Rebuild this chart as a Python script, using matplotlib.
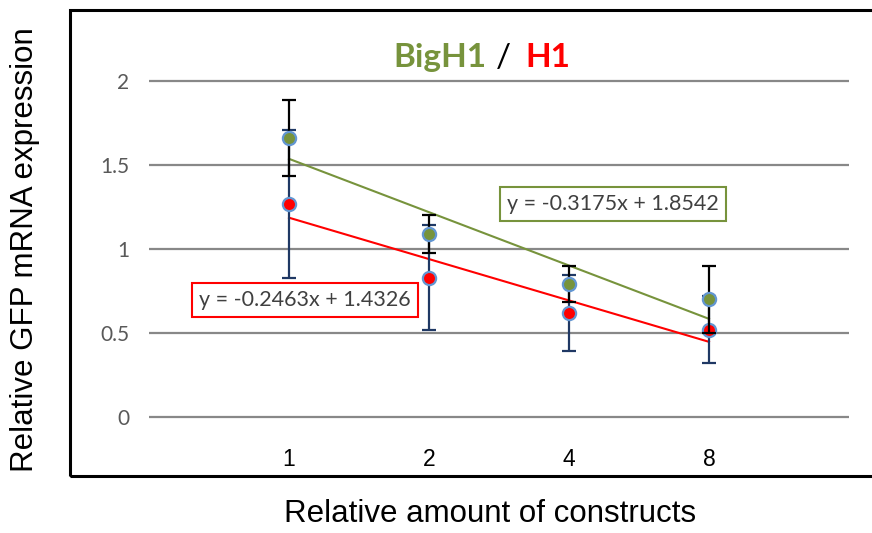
import matplotlib
matplotlib.use("Agg")
import matplotlib.pyplot as plt
from matplotlib.patches import Rectangle
import numpy as np

# ---- data ----
categories = ["1", "2", "4", "8"]
bigh1_mean = [1.66, 1.09, 0.79, 0.70]
bigh1_err = [0.225, 0.115, 0.107, 0.20]
h1_mean = [1.27, 0.83, 0.62, 0.52]
h1_err = [0.44, 0.31, 0.225, 0.20]
trend_slope = {"BigH1": -0.3175, "H1": -0.2463}
trend_intercept = {"BigH1": 1.8542, "H1": 1.4326}
yticks = [0, 0.5, 1, 1.5, 2]

GREEN = "#77933C"
RED = "#FF0000"
NAVY = "#1F3864"
EDGE = "#6296D2"
GRID = "#888888"

W, H = 872, 533
fig = plt.figure(figsize=(W / 100, H / 100), dpi=100)
ax = fig.add_axes([149 / W, 1 - 425.4 / H, 700 / W, (425.4 - 39) / H])

x = np.arange(1, len(categories) + 1)
ax.set_xlim(0, 5)
ax.set_ylim(-0.05, 2.25)

for s in ax.spines.values():
    s.set_visible(False)

# gridlines
for yv in yticks:
    ax.axhline(yv, color=GRID, lw=1.6, zorder=1)

# trendlines
xt = np.array([x[0], x[-1]], dtype=float)
ax.plot(xt, trend_slope["BigH1"] * xt + trend_intercept["BigH1"], color=GREEN, lw=1.5, zorder=2)
ax.plot(xt, trend_slope["H1"] * xt + trend_intercept["H1"], color=RED, lw=1.5, zorder=2)

# H1 series
ax.errorbar(x, h1_mean, yerr=h1_err, fmt="none", ecolor=NAVY, elinewidth=1.6,
            capsize=5, capthick=1.6, zorder=3)
ax.plot(x, h1_mean, "o", ms=9.5, mfc=RED, mec=EDGE, mew=1.6, zorder=4)
# BigH1 series
ax.errorbar(x, bigh1_mean, yerr=bigh1_err, fmt="none", ecolor="black", elinewidth=1.6,
            capsize=5, capthick=1.6, zorder=5)
ax.plot(x, bigh1_mean, "o", ms=9.5, mfc=GREEN, mec=EDGE, mew=1.6, zorder=6)

# ticks
ax.set_xticks(x)
ax.set_xticklabels(categories, fontsize=16.5, family="Liberation Sans", color="black")
ax.set_yticks(yticks)
ax.set_yticklabels(["0", "0.5", "1", "1.5", "2"], fontsize=15, family="Lato", color="#595959")
ax.tick_params(axis="x", length=0, pad=16.5)
ax.tick_params(axis="y", length=0, pad=14)

# equation boxes
def px2data(px, py):
    return (px - 149) / 140, (417 - py) / 168

rx, ry = px2data(305, 300)
ax.text(rx, ry, "y = %.4fx + %.4f" % (trend_slope["H1"], trend_intercept["H1"]),
        ha="center", va="center", fontsize=15.5, family="Lato", color="#404040", zorder=7,
        bbox=dict(boxstyle="square,pad=0.33", fc="white", ec=RED, lw=1.5))
gx, gy = px2data(613, 204)
ax.text(gx, gy, "y = %.4fx + %.4f" % (trend_slope["BigH1"], trend_intercept["BigH1"]),
        ha="center", va="center", fontsize=15.5, family="Lato", color="#404040", zorder=7,
        bbox=dict(boxstyle="square,pad=0.33", fc="white", ec=GREEN, lw=1.5))

# title
ty = 1 - 67 / H
fig.text(486 / W, ty, "BigH1", ha="right", va="baseline", fontsize=24, family="Lato",
         weight="bold", color=GREEN)
fig.text(503 / W, ty, "/", ha="center", va="baseline", fontsize=24, family="Lato", color="black")
fig.text(525 / W, ty, "H1", ha="left", va="baseline", fontsize=24, family="Lato",
         weight="bold", color=RED)

# axis labels
fig.text(25 / W, 1 - 250 / H, "Relative GFP mRNA expression", rotation=90, ha="center",
         va="center", fontsize=22.5, family="Liberation Sans", color="black")
fig.text(490 / W, 1 - 514 / H, "Relative amount of constructs", ha="center", va="center",
         fontsize=22.5, family="Liberation Sans", color="black")

# outer frame
fig.add_artist(Rectangle((70 / W, 1 - 476 / H), 830 / W, 466 / H, transform=fig.transFigure,
                         fill=False, ec="black", lw=2.2))

fig.savefig("out.png", dpi=100)
